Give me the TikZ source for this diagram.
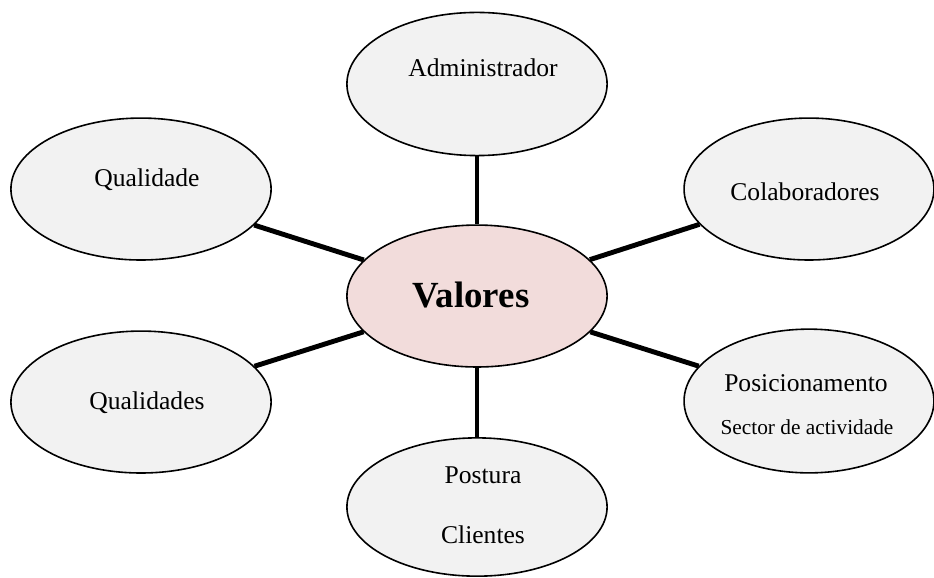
\documentclass[tikz,border=0pt]{standalone}
\usepackage{fontspec}
\setmainfont{Liberation Serif}
\usetikzlibrary{shapes.geometric}
\definecolor{bubblegray}{HTML}{F2F2F2}
\definecolor{bubblepink}{HTML}{F2DCDB}
\begin{document}
\begin{tikzpicture}[
		bubble/.style={ellipse, draw, line width=0.75pt, fill=bubblegray, minimum width=4.29cm, minimum height=2.34cm, inner sep=0pt},
		lbl/.style={font=\large, inner sep=1pt},
		link/.style={line width=2.3pt}
		]
		\useasboundingbox (0,0) rectangle (15.4,9.514);
		% Central value
		\node[bubble, fill=bubblepink] (val) at (7.865,4.633) {};
		% Surrounding bubbles
		\node[bubble, minimum height=2.36cm] (adm) at (7.865,8.129) {};
		\node[bubble] (qld) at (2.325,6.397) {};
		\node[bubble] (qlds) at (2.325,2.885) {};
		\node[bubble, minimum width=4.12cm] (col) at (13.339,6.397) {};
		\node[bubble, minimum width=4.12cm, minimum height=2.37cm] (pos) at (13.339,2.902) {};
		\node[bubble, minimum height=2.28cm] (pst) at (7.865,1.154) {};
		
		% Spokes from the centre
		\draw[link] (val) -- (adm);
		\draw[link] (val) -- (qld);
		\draw[link] (val) -- (qlds);
		\draw[link] (val) -- (col);
		\draw[link] (val) -- (pos);
		\draw[link] (val) -- (pst);
		
		% Texts
		\node[font=\LARGE\bfseries] (valtxt) at (7.766,4.650) {Valores};
		\node[lbl] (admtxt) at (7.964,8.392) {Administrador};
		\node[lbl] (qldtxt) at (2.424,6.546) {Qualidade};
		\node[lbl] (qldstxt) at (2.424,2.869) {Qualidades};
		\node[lbl] (coltxt) at (13.273,6.348) {Colaboradores};
		\node[lbl] (postxt) at (13.289,3.199) {Posicionamento};
		\node[lbl, font=\normalsize] (sectxt) at (13.306,2.473) {Sector de actividade};
		\node[lbl] (psttxt) at (7.964,1.682) {Postura};
		\node[lbl] (clitxt) at (7.964,0.692) {Clientes};
	\end{tikzpicture}
\end{document}
